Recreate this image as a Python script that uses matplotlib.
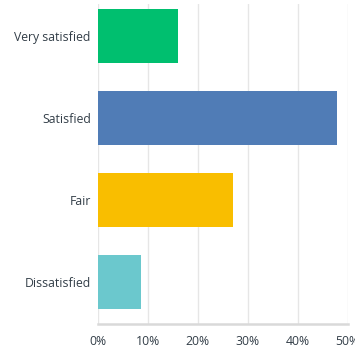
import matplotlib
matplotlib.use("Agg")
import matplotlib.pyplot as plt
from matplotlib.ticker import PercentFormatter

categories = ["Very satisfied", "Satisfied", "Fair", "Dissatisfied"]
values = [16.0, 47.9, 27.0, 8.7]
colors = ["#00bf6f", "#507cb6", "#f9be00", "#6bc8cd"]
xticks = [0, 10, 20, 30, 40, 50]

plt.rcParams['font.family'] = ['Open Sans', 'DejaVu Sans']

fig = plt.figure(figsize=(3.55, 3.45), dpi=100)
ax = fig.add_axes([97.7/355, 1-324/345, 250/355, 320/345])

ypos = list(range(len(categories)))
ax.barh(ypos, values, height=0.66, color=colors, zorder=3)

ax.set_xlim(0, 50)
ax.set_ylim(3.51, -0.39)
ax.set_xticks(xticks)
ax.xaxis.set_major_formatter(PercentFormatter(decimals=0))
ax.set_yticks(ypos)
ax.set_yticklabels(categories)

ax.grid(axis='x', color='#e6e6e6', linewidth=1.0, zorder=0)
ax.grid(axis='y', visible=False)
for s in ['top', 'right', 'left']:
    ax.spines[s].set_visible(False)
ax.spines['bottom'].set_color('#d9d9d9')
ax.spines['bottom'].set_linewidth(1.8)
ax.tick_params(axis='both', length=0, labelsize=8.8, colors='#333e48')
ax.tick_params(axis='y', pad=5)
ax.tick_params(axis='x', pad=8)
ax.set_axisbelow(True)
ax.spines['bottom'].set_zorder(4)

fig.savefig("out.png", dpi=100)
